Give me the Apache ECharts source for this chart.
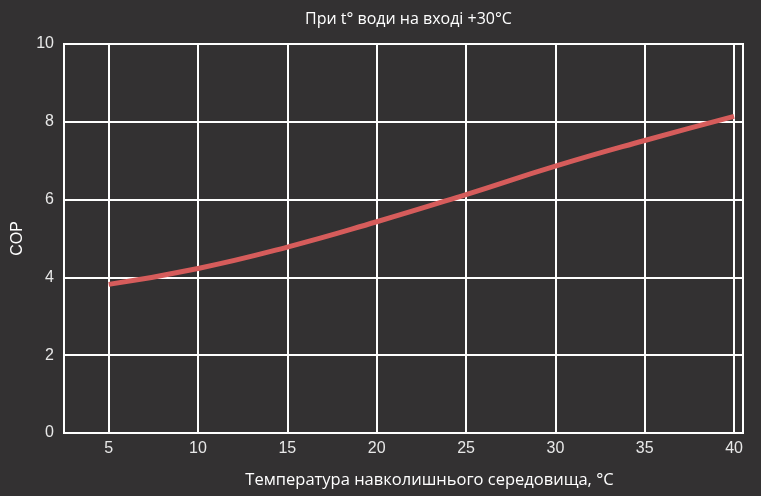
<!DOCTYPE html>
<html>
<head>
<meta charset="utf-8">
<script src="https://cdn.jsdelivr.net/npm/echarts@6/dist/echarts.min.js"></script>
<style>
html,body{margin:0;padding:0;background:#333132;}
#c{width:761px;height:496px;}
</style>
</head>
<body>
<div id="c"></div>
<script>
var temps = [5, 10, 15, 20, 25, 30, 35, 40];
var cop = [3.82, 4.23, 4.78, 5.43, 6.13, 6.86, 7.52, 8.14];
var xTicks = [5, 10, 15, 20, 25, 30, 35, 40];
var yTicks = [0, 2, 4, 6, 8, 10];

var chart = echarts.init(document.getElementById('c'));
chart.setOption({
  backgroundColor: '#333132',
  animation: false,
  title: {
    text: 'При t° води на вході +30°C',
    left: 300,
    top: 6,
    textStyle: {color: '#ffffff', fontFamily: 'Open Sans', fontSize: 16, fontWeight: 'normal'}
  },
  grid: {
    left: 64, right: 18, top: 44, bottom: 63,
    show: true, borderColor: '#ffffff', borderWidth: 2, backgroundColor: 'transparent'
  },
  xAxis: {
    type: 'value',
    min: 2.5, max: 40.5,
    name: 'Температура навколишнього середовища, °C',
    nameLocation: 'middle',
    nameGap: 39,
    nameTextStyle: {color: '#ffffff', fontFamily: 'Open Sans', fontSize: 16.5, padding: [0, 0, 0, 52]},
    axisLine: {show: false},
    axisTick: {show: false, customValues: xTicks},
    axisLabel: {customValues: xTicks, color: '#e8e8e8', fontFamily: 'Liberation Sans', fontSize: 16, margin: 8},
    splitLine: {show: true, lineStyle: {color: '#ffffff', width: 2}}
  },
  yAxis: {
    type: 'value',
    min: 0, max: 10, interval: 2,
    name: 'COP',
    nameLocation: 'middle',
    nameGap: 38,
    nameTextStyle: {color: '#ffffff', fontFamily: 'Liberation Sans', fontSize: 16},
    axisLine: {show: false},
    axisTick: {show: false},
    axisLabel: {color: '#e8e8e8', fontFamily: 'Liberation Sans', fontSize: 16, margin: 10},
    splitLine: {show: true, lineStyle: {color: '#ffffff', width: 2}}
  },
  series: [{
    type: 'line',
    data: temps.map(function (t, i) { return [t, cop[i]]; }),
    smooth: true,
    showSymbol: false,
    lineStyle: {color: '#d65c5b', width: 5}
  }]
});
</script>
</body>
</html>
